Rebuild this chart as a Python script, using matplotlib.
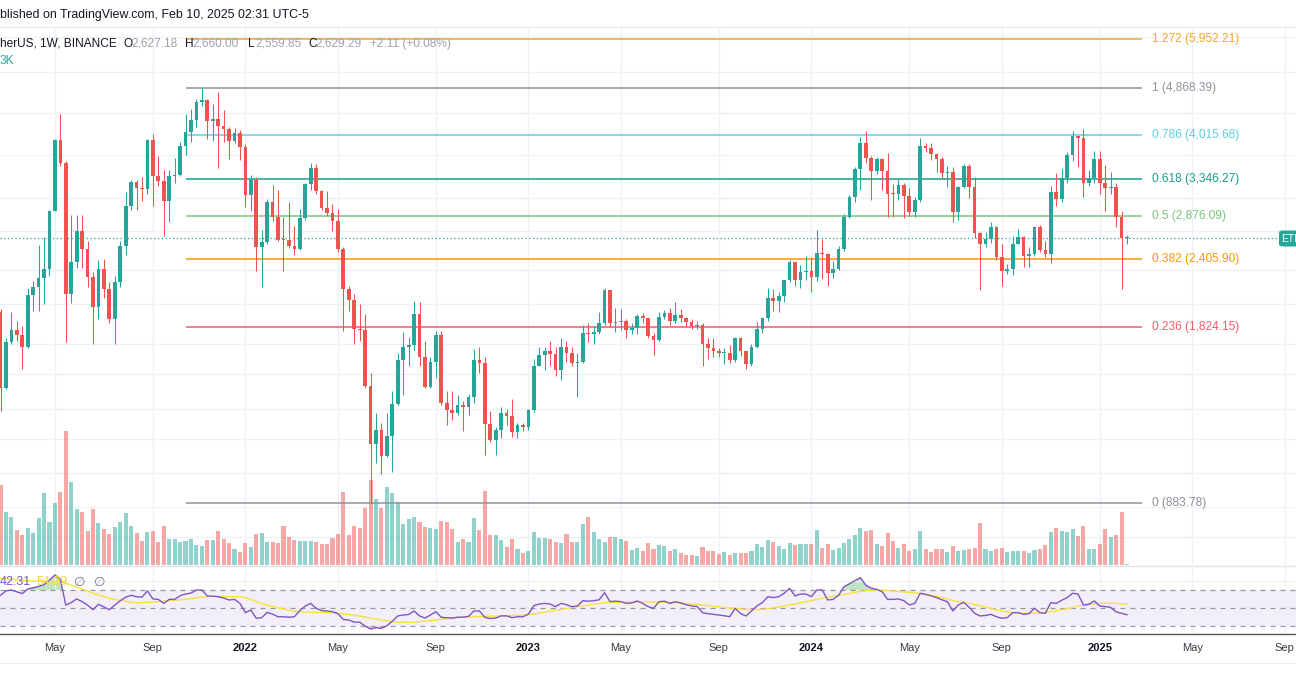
import numpy as np
import pandas as pd
import matplotlib
matplotlib.use("Agg")
import matplotlib.pyplot as plt
from matplotlib.patches import FancyBboxPatch

plt.rcParams['font.family'] = ['Liberation Sans', 'DejaVu Sans']

# ---- weekly ETHUSDT candles, Feb 22 2021 .. Feb 10 2025 ----
start_week = "2021-02-22"

opens = [1935, 1421, 1712, 1803, 1763, 1675, 2078, 2150, 2225, 2313,
         2936, 3922, 3573, 2086, 2377, 2708, 2511, 2234, 1975, 2313,
         2130, 1883, 2189, 2547, 3002, 3305, 3227, 3214, 3922, 3396,
         3327, 3056, 3396, 3404, 3831, 4059, 4270, 4594, 4640, 4247,
         4276, 4171, 4114, 3913, 4047, 3816, 3141, 3336, 2528, 2582,
         3043, 2861, 2610, 2605, 2539, 2511, 2849, 3281, 3504, 3193,
         2973, 2908, 2814, 2511, 2130, 2036, 1807, 1799, 1431, 1125,
         1192, 1073, 1165, 1330, 1590, 1675, 1694, 1922, 1611, 1425,
         1575, 1761, 1335, 1293, 1278, 1322, 1309, 1366, 1588, 1570,
         1224, 1144, 1194, 1278, 1264, 1182, 1217, 1209, 1293, 1554,
         1626, 1648, 1633, 1527, 1676, 1640, 1570, 1580, 1777, 1770,
         1785, 1853, 2122, 1853, 1862, 1866, 1800, 1813, 1906, 1889,
         1753, 1724, 1896, 1933, 1866, 1915, 1889, 1858, 1830, 1835,
         1700, 1672, 1649, 1639, 1640, 1594, 1745, 1649, 1567, 1677,
         1805, 1889, 2053, 2025, 2070, 2207, 2383, 2210, 2287, 2294,
         2235, 2467, 2460, 2279, 2310, 2507, 2864, 3106, 3485, 3878,
         3647, 3465, 3634, 3465, 3152, 3150, 3260, 3125, 2921, 3072,
         3830, 3800, 3715, 3640, 3437, 3450, 2921, 3244, 3527, 3244,
         2679, 2562, 2616, 2753, 2428, 2296, 2309, 2567, 2636, 2436,
         2457, 2753, 2504, 2457, 3180, 3082, 3359, 3700, 3995, 3957,
         3293, 3357, 3634, 3293, 3227, 3240, 2869, 2627.18]

highs = [1960, 1745, 1940, 1870, 1830, 2140, 2200, 2548, 2640, 2950,
         3950, 4378, 3600, 2890, 2890, 2890, 2600, 2280, 2400, 2410,
         2190, 2250, 2600, 3180, 3335, 3340, 3375, 3950, 4030, 3680,
         3470, 3480, 3650, 3900, 4380, 4460, 4660, 4868, 4650, 4550,
         4780, 4440, 4150, 4130, 4100, 3870, 3410, 3370, 2720, 3080,
         3270, 3200, 2860, 3040, 2760, 2960, 3300, 3573, 3560, 3200,
         3190, 3020, 2960, 2530, 2160, 2090, 2000, 1922, 1510, 1280,
         1230, 1280, 1400, 1640, 1785, 1750, 2030, 2020, 1720, 1610,
         1790, 1790, 1400, 1400, 1380, 1345, 1385, 1665, 1680, 1610,
         1290, 1210, 1310, 1300, 1355, 1230, 1230, 1300, 1600, 1680,
         1680, 1720, 1680, 1740, 1720, 1680, 1640, 1840, 1850, 1830,
         1940, 2140, 2125, 1970, 1960, 1880, 1850, 1920, 1930, 1890,
         1780, 1940, 1955, 1970, 2016, 1960, 1900, 1880, 1870, 1850,
         1740, 1740, 1670, 1670, 1690, 1750, 1750, 1650, 1700, 1860,
         1900, 2140, 2130, 2100, 2210, 2400, 2385, 2352, 2438, 2430,
         2715, 2620, 2470, 2390, 2540, 2900, 3130, 3520, 3977, 4084,
         3680, 3661, 3650, 3730, 3280, 3355, 3290, 3220, 3110, 3965,
         3880, 3880, 3720, 3660, 3530, 3510, 3250, 3560, 3560, 3382,
         2690, 2690, 2800, 2760, 2560, 2360, 2650, 2730, 2650, 2530,
         2760, 2770, 2600, 3250, 3436, 3507, 3740, 4084, 4000, 4104,
         3480, 3750, 3750, 3540, 3450, 3300, 2934, 2660.00]

lows = [1290, 1410, 1700, 1720, 1535, 1670, 1945, 1950, 2000, 2250,
        2930, 3530, 1712, 2010, 2320, 2320, 2150, 1700, 1880, 2050,
        1850, 1700, 2150, 2450, 2950, 2950, 3060, 3150, 3000, 3250,
        2650, 2800, 3300, 3390, 3700, 3900, 4150, 4520, 3950, 3920,
        3500, 3900, 3640, 3880, 3620, 2990, 2930, 2295, 2150, 2560,
        2820, 2600, 2295, 2520, 2450, 2500, 2830, 3200, 3150, 2950,
        2880, 2700, 2480, 1790, 1950, 1700, 1720, 1420, 881, 1040,
        995, 1070, 1006, 1320, 1380, 1550, 1655, 1550, 1420, 1420,
        1480, 1325, 1220, 1245, 1270, 1190, 1270, 1335, 1510, 1077,
        1136, 1077, 1155, 1220, 1160, 1155, 1190, 1195, 1285, 1550,
        1530, 1550, 1487, 1467, 1580, 1550, 1369, 1570, 1710, 1700,
        1770, 1840, 1825, 1786, 1800, 1745, 1770, 1770, 1850, 1740,
        1625, 1720, 1885, 1835, 1850, 1860, 1830, 1810, 1807, 1552,
        1600, 1610, 1610, 1565, 1570, 1575, 1620, 1535, 1550, 1671,
        1780, 1870, 1945, 1935, 2020, 2190, 2160, 2140, 2210, 2108,
        2200, 2220, 2160, 2230, 2300, 2490, 2850, 3050, 3200, 3570,
        3072, 3424, 3200, 2860, 2860, 3072, 2850, 2876, 2860, 3050,
        3740, 3620, 3450, 3360, 3240, 2810, 2830, 3230, 3100, 2630,
        2122, 2530, 2570, 2400, 2155, 2270, 2260, 2560, 2330, 2330,
        2440, 2480, 2425, 2374, 3000, 3050, 3300, 3600, 3520, 3107,
        3250, 3300, 3150, 2934, 3150, 2750, 2128, 2559.85]

closes = [1421, 1712, 1803, 1763, 1675, 2078, 2150, 2225, 2313, 2936,
          3922, 3573, 2086, 2377, 2708, 2511, 2234, 1975, 2313, 2130,
          1883, 2189, 2547, 3002, 3305, 3227, 3214, 3922, 3396, 3327,
          3056, 3396, 3404, 3831, 4059, 4270, 4594, 4640, 4247, 4276,
          4171, 4114, 3913, 4047, 3816, 3141, 3336, 2528, 2582, 3043,
          2861, 2610, 2605, 2539, 2511, 2849, 3281, 3504, 3193, 2973,
          2908, 2814, 2511, 2130, 2036, 1807, 1799, 1431, 1125, 1192,
          1073, 1165, 1330, 1590, 1675, 1694, 1922, 1611, 1425, 1575,
          1761, 1335, 1293, 1278, 1322, 1309, 1366, 1588, 1570, 1224,
          1144, 1194, 1278, 1264, 1182, 1217, 1209, 1293, 1554, 1626,
          1648, 1633, 1527, 1676, 1640, 1570, 1580, 1777, 1770, 1785,
          1853, 2122, 1853, 1862, 1866, 1800, 1813, 1906, 1889, 1753,
          1724, 1896, 1933, 1866, 1915, 1889, 1858, 1830, 1835, 1700,
          1672, 1649, 1639, 1640, 1594, 1745, 1649, 1567, 1677, 1805,
          1889, 2053, 2025, 2070, 2207, 2383, 2210, 2287, 2294, 2235,
          2467, 2460, 2279, 2310, 2507, 2864, 3106, 3485, 3878, 3647,
          3465, 3634, 3465, 3152, 3150, 3260, 3125, 2921, 3072, 3830,
          3800, 3715, 3640, 3437, 3450, 2921, 3244, 3527, 3244, 2679,
          2562, 2616, 2753, 2428, 2296, 2309, 2567, 2636, 2436, 2457,
          2753, 2504, 2457, 3180, 3082, 3359, 3700, 3995, 3957, 3293,
          3357, 3634, 3293, 3227, 3240, 2869, 2627.18, 2629.29]

# relative weekly volume (bar heights)
volume = [80, 53, 48, 35, 30, 37, 32, 47, 72, 43,
          62, 73, 134, 83, 56, 53, 34, 56, 42, 36,
          31, 38, 43, 52, 39, 32, 24, 33, 34, 23,
          39, 26, 26, 23, 24, 26, 20, 19, 25, 25,
          34, 26, 22, 16, 13, 22, 18, 31, 32, 23,
          23, 22, 39, 28, 25, 24, 24, 24, 23, 21,
          21, 27, 31, 73, 30, 39, 37, 57, 85, 66,
          57, 78, 72, 63, 41, 46, 48, 43, 38, 37,
          36, 44, 43, 36, 23, 26, 23, 47, 35, 74,
          30, 30, 25, 18, 26, 16, 12, 14, 33, 27,
          27, 26, 23, 22, 31, 23, 23, 41, 48, 33,
          26, 23, 28, 28, 26, 24, 15, 17, 14, 22,
          16, 20, 19, 14, 16, 12, 10, 10, 9, 18,
          14, 14, 11, 13, 10, 12, 12, 12, 14, 21,
          18, 25, 23, 19, 16, 22, 20, 21, 21, 21,
          35, 17, 21, 15, 17, 22, 26, 30, 37, 34,
          35, 21, 19, 32, 24, 17, 21, 14, 16, 34,
          16, 13, 16, 16, 13, 19, 14, 15, 16, 17,
          42, 16, 14, 16, 17, 13, 14, 14, 14, 12,
          15, 16, 20, 33, 37, 34, 33, 36, 29, 39,
          16, 16, 21, 36, 28, 30, 53, 1.5]

# RSI(14) and its moving average as drawn in the lower pane
rsi = [64, 69, 70, 68, 66, 71, 72.5, 74, 76, 81,
       86.8, 82, 53, 56, 60, 57, 53, 48, 54, 51,
       48, 53, 58, 62, 64, 62.5, 62, 69, 60, 59.5,
       55, 59.5, 59.5, 63.6, 65.5, 66.5, 70, 70, 63.3, 63,
       62.5, 61, 58.8, 59.5, 55, 44.6, 47.6, 38.3, 39, 45,
       43, 40, 40, 39.5, 40, 47, 52, 55, 49.5, 47,
       46.5, 45.7, 43.5, 37, 36.4, 34, 34, 29.5, 26.3, 27.8,
       27, 30, 35, 40.9, 42, 42.5, 46.5, 41, 38.5, 42,
       45.7, 39.4, 39, 38.5, 39.5, 39.5, 40.5, 46.5, 46.5, 39.4,
       38, 38.6, 41, 41, 39, 40, 40, 43, 52.4, 54.3,
       55, 54.3, 51.3, 55, 53.5, 51.3, 52, 58, 57.5, 58,
       59, 67, 57, 57.5, 57, 55, 55.5, 57.7, 55, 51.3,
       49.5, 56.9, 57.5, 55, 56.9, 55.5, 53.5, 52.1, 51.5, 44.6,
       43.5, 42.7, 42, 41.2, 40.1, 49.5, 43.5, 40.9, 46.5, 52.1,
       56, 62.5, 61.5, 62.5, 66.3, 71.9, 63.3, 65.5, 65.5, 62.5,
       70, 70, 58.8, 59.5, 64, 73.7, 77, 80.5, 83.8, 75.5,
       72, 70.7, 68.1, 59.5, 59.5, 60, 58, 53.2, 55, 66.3,
       65, 63.5, 61.5, 59, 56.9, 46.5, 53.2, 56.2, 50.5, 43.9,
       40.9, 41.5, 42.7, 40.1, 38.3, 39, 44.6, 44.6, 42.7, 43.5,
       49.5, 44.6, 43.9, 55.8, 55, 58.5, 61.5, 66.3, 65.5, 53.2,
       54, 57.7, 52.1, 51.3, 50.6, 45.5, 43.9, 42.31]

rsi_ma = [83, 82.5, 82, 81.5, 81, 80.5, 80, 79.7, 79.5, 79.5,
          79.5, 79.2, 77.5, 75.5, 73.3, 71, 68.8, 66.5, 64.5, 62.5,
          60.8, 59.3, 58.2, 57.2, 56.3, 55.7, 55.8, 56.2, 56.6, 57,
          57.6, 58, 58.5, 59, 59.5, 60.3, 61, 62, 62.8, 63,
          62.8, 62.5, 62.5, 62.5, 62.5, 61.5, 59.5, 57, 55, 53,
          51.5, 50, 49, 47.5, 46, 45.6, 45.3, 45, 44.8, 44.7,
          44.6, 44.5, 44, 43.3, 42.5, 41.7, 40.9, 39.8, 38.6, 37.4,
          36.4, 35.5, 34.6, 33.8, 33.8, 33.8, 33.8, 34.5, 35.2, 35.8,
          36.4, 37.2, 38, 38.8, 39.4, 39.6, 39.8, 40, 40.3, 40.5,
          40.7, 40.9, 41, 41.2, 41.4, 41.6, 41.8, 42.5, 43, 44,
          45.3, 46.3, 47.2, 48.3, 49.3, 50.3, 51.2, 52.3, 53.3, 54.3,
          55, 55.8, 56, 56.2, 56.4, 56.5, 56.6, 56.8, 56.9, 56.8,
          56.6, 56.4, 56.2, 56, 55.8, 55.5, 55, 54.4, 53.8, 53.2,
          52.5, 51.8, 51, 50.3, 49.7, 49.3, 48.8, 48.3, 48, 48,
          48.3, 49, 50, 51, 52, 53.2, 54.3, 55.5, 56.8, 58,
          59.5, 61, 62, 63, 64, 65, 66.3, 67.5, 68.5, 69.3,
          69.8, 70, 69.8, 69.3, 68.8, 68.3, 67.8, 67.4, 66.6, 66,
          65, 64, 62.8, 61.5, 60, 58, 57, 56, 55, 53.7,
          52.5, 51, 49.5, 47.6, 46.5, 45.5, 44.7, 44.2, 44, 43.9,
          44, 44.3, 44.8, 45.7, 46.8, 47.8, 49, 50.3, 52.1, 53,
          53.8, 54.5, 55, 55.2, 55.2, 55, 54.6, 54.29]

# Fibonacci retracement drawn from the 883.78 low to the 4,868.39 high
fib_levels = [1.272, 1, 0.786, 0.618, 0.5, 0.382, 0.236, 0]
fib_prices = [5952.21, 4868.39, 4015.68, 3346.27, 2876.09, 2405.90, 1824.15, 883.78]
fib_colors = ['#f5a623', '#8f929b', '#5fd0e0', '#179f8b', '#7cc47f', '#ff9800', '#f45b69', '#8f929b']

price_grid = [770, 870, 1000, 1150, 1300, 1500, 1700, 2000, 2300, 2700, 3100, 3700, 4400, 5200, 6000]
axis_months = ['2021-05-01', '2021-09-01', '2022-01-01', '2022-05-01', '2022-09-01', '2023-01-01',
               '2023-05-01', '2023-09-01', '2024-01-01', '2024-05-01', '2024-09-01', '2025-01-01',
               '2025-05-01', '2025-09-01']

# ---------------- layout (pixels of the 1296x700 reference) ----------------
W, H = 1296, 700
BAR_PX, X0_PX = 5.442, 0.5
PANE_TOP, PANE_BOT = 27, 565
RSI_TOP, RSI_BOT = 568, 634
UP, DOWN = '#26a69a', '#ef5350'
GRID = '#eef1f6'

o = np.array(opens, float); h = np.array(highs, float)
l = np.array(lows, float); c = np.array(closes, float)
idx = np.arange(len(o))
up = c >= o
colors = np.where(up, UP, DOWN)

x_lo = (0 - X0_PX) / BAR_PX
x_hi = (W - X0_PX) / BAR_PX
# price scale (log) reproduced from the fib label positions
y_top_price = 5952.21 * np.exp((39 - PANE_TOP) / 243.3)
y_bot_price = 5952.21 * np.exp(-(PANE_BOT - 39) / 243.3)

fig = plt.figure(figsize=(W / 100, H / 100), dpi=100)
fig.patch.set_facecolor('white')

def rect(top, bot):
    return [0, 1 - bot / H, 1, (bot - top) / H]

start = pd.Timestamp(start_week)
tick_pos = [int(np.ceil((pd.Timestamp(m) - start).days / 7)) for m in axis_months]
tick_lab = [pd.Timestamp(m).strftime('%Y') if pd.Timestamp(m).month == 1 else pd.Timestamp(m).strftime('%b')
            for m in axis_months]

# background grid
ax_bg = fig.add_axes(rect(PANE_TOP, PANE_BOT))
ax_bg.set_yscale('log')
ax_bg.set_xlim(x_lo, x_hi); ax_bg.set_ylim(y_bot_price, y_top_price)
for p in price_grid:
    ax_bg.axhline(p, color=GRID, lw=1)
for t in tick_pos:
    ax_bg.axvline(t, color=GRID, lw=1)
ax_bg.axis('off')

# volume overlay
ax_vol = fig.add_axes(rect(PANE_TOP, PANE_BOT))
ax_vol.patch.set_alpha(0)
ax_vol.bar(idx, volume, width=0.75, color=colors, alpha=0.5, linewidth=0)
ax_vol.set_xlim(x_lo, x_hi); ax_vol.set_ylim(0, PANE_BOT - PANE_TOP)
ax_vol.axis('off')

# candles + fib
ax = fig.add_axes(rect(PANE_TOP, PANE_BOT))
ax.patch.set_alpha(0)
ax.set_yscale('log')
ax.set_xlim(x_lo, x_hi); ax.set_ylim(y_bot_price, y_top_price)

FIB_START, FIB_END, FIB_LABEL = 34.1, 209.8, 211.6
for lvl, pr, col in zip(fib_levels, fib_prices, fib_colors):
    ax.plot([FIB_START, FIB_END], [pr, pr], color=col, lw=1.1, solid_capstyle='butt', zorder=2)
    ax.text(FIB_LABEL, pr, f"{lvl:g} ({pr:,.2f})", color=col, fontsize=8.6,
            va='center', ha='left', zorder=5)

ax.axhline(c[-1], color=UP, lw=0.9, ls=(0, (1, 2)), zorder=2)

ax.vlines(idx, l, h, colors=colors, lw=0.75, zorder=3)
body_lo = np.minimum(o, c)
body_h = np.maximum(np.abs(c - o), body_lo * 0.004)
ax.bar(idx, body_h, bottom=body_lo, width=0.68, color=colors, linewidth=0, zorder=4)
ax.axis('off')

# RSI pane
ax_r = fig.add_axes(rect(RSI_TOP, RSI_BOT))
ax_r.set_xlim(x_lo, x_hi)
ax_r.set_ylim(70 - (RSI_BOT - 590) / 0.8925, 70 + (590 - RSI_TOP) / 0.8925)
for t in tick_pos:
    ax_r.axvline(t, color=GRID, lw=1)
ax_r.axhline(80, color=GRID, lw=1)
ax_r.axhspan(30, 70, color='#7e57c2', alpha=0.09, lw=0)
for lv in (70, 50, 30):
    ax_r.axhline(lv, color='#9598a1', lw=0.9, ls=(0, (4, 4)))
r = np.array(rsi)
ax_r.fill_between(idx, 70, r, where=r >= 70, interpolate=True, color='#4caf50', alpha=0.35, lw=0)
ax_r.fill_between(idx, 30, r, where=r <= 30, interpolate=True, color='#f23645', alpha=0.3, lw=0)
ax_r.plot(idx, rsi_ma, color='#f7e23c', lw=1.0)
ax_r.plot(idx, rsi, color='#7e57c2', lw=1.0)
ax_r.axis('off')

# pane separators / time axis border
fig.add_artist(plt.Line2D([0, 1], [1 - PANE_TOP / H] * 2, color='#e6e9ef', lw=0.8))
fig.add_artist(plt.Line2D([0, 1], [1 - 566 / H] * 2, color='#e0e3eb', lw=1))
fig.add_artist(plt.Line2D([0, 1], [1 - RSI_BOT / H] * 2, color='#50535e', lw=1))
fig.add_artist(plt.Line2D([0, 1], [1 - 663 / H] * 2, color='#eef0f3', lw=0.8))

# time axis labels
for t, lab in zip(tick_pos, tick_lab):
    xf = (X0_PX + t * BAR_PX) / W
    is_year = lab.isdigit()
    fig.text(xf, 1 - 648 / H, lab, ha='center', va='center', fontsize=8,
             color='#131722' if is_year else '#363a45', fontweight='bold' if is_year else 'normal')

def ftext(x, y, s, **kw):
    fig.text(x / W, 1 - y / H, s, va='center', ha='left', **kw)

# header texts (cropped at the left edge as in the screenshot)
ftext(0, 15, "blished on TradingView.com, Feb 10, 2025 02:31 UTC-5", fontsize=8.9, color='#131722')
ftext(0, 44, "herUS, 1W, BINANCE", fontsize=8.6, color='#131722')
val_col = '#a0a3ab'
for x, key, val in [(124, "O", f"{opens[-1]:,.2f}"), (185, "H", f"{highs[-1]:,.2f}"),
                    (248, "L", f"{lows[-1]:,.2f}"), (308, "C", f"{closes[-1]:,.2f}")]:
    ftext(x, 44, key, fontsize=8.6, color='#131722')
    ftext(x + 7, 44, val, fontsize=8.6, color=val_col)
ftext(370, 44, "+2.11 (+0.08%)", fontsize=8.6, color=val_col)
ftext(0, 61, "3K", fontsize=8.6, color=UP)

# RSI header values
ftext(0, 582, f"{rsi[-1]:.2f}", fontsize=9.0, color='#7e57c2')
ftext(37, 582, f"{rsi_ma[-1]:.2f}", fontsize=9.0, color='#f2d43a')
ftext(74, 582, "\u2205", fontsize=9.5, color='#787b86', family=['DejaVu Sans'])
ftext(94, 582, "\u2205", fontsize=9.5, color='#787b86', family=['DejaVu Sans'])

# last-price tag on the cut-off price scale
tag_y = 1 - (238.5 + 8) / H
fig.add_artist(FancyBboxPatch((1279 / W, tag_y), 30 / W, 16 / H, boxstyle="round,pad=0,rounding_size=0.003",
                              transform=fig.transFigure, color='#26a69a', lw=0))
ftext(1281, 238.5, "ETH", fontsize=7.5, color='white')

fig.savefig("out.png", dpi=100)
